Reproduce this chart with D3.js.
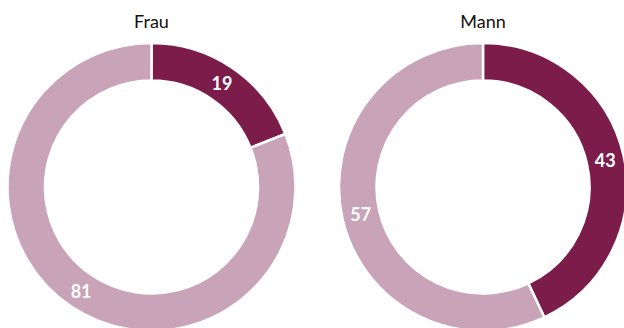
<!DOCTYPE html>
<html>
<head>
<meta charset="utf-8">
<script src="https://cdn.jsdelivr.net/npm/d3@7"></script>
<style>
  html, body { margin: 0; padding: 0; background: #fff; overflow: hidden; }
  svg { display: block; }
</style>
</head>
<body>
<svg id="chart" width="624" height="328"></svg>
<script>
// Anteile in Prozent je Geschlecht
const groups = ["Frau", "Mann"];
const categories = ["ja", "nein"];
const valuesFrau = [19, 81];
const valuesMann = [43, 57];
const seriesValues = [valuesFrau, valuesMann];
const colors = ["#7b1c4b", "#c9a3b7"];

const svg = d3.select("#chart");

const outerR = 144;
const innerR = 106.5;
const cy = 187;

const x = d3.scalePoint().domain(groups).range([151.5, 483]);
const color = d3.scaleOrdinal().domain(categories).range(colors);

const pie = d3.pie().sort(null).value(d => d.value);
const arc = d3.arc().innerRadius(innerR).outerRadius(outerR);

groups.forEach((g, i) => {
  const data = categories.map((c, j) => ({ cat: c, value: seriesValues[i][j] }));
  const gEl = svg.append("g").attr("transform", `translate(${x(g)},${cy})`);

  gEl.selectAll("path")
    .data(pie(data))
    .join("path")
    .attr("d", arc)
    .attr("fill", d => color(d.data.cat))
    .attr("stroke", "#fff")
    .attr("stroke-width", 2.5);

  gEl.selectAll("text.val")
    .data(pie(data))
    .join("text")
    .attr("class", "val")
    .attr("transform", d => `translate(${arc.centroid(d)})`)
    .attr("text-anchor", "middle")
    .attr("dominant-baseline", "central")
    .attr("font-family", "Lato, 'Open Sans', sans-serif")
    .attr("font-weight", "bold")
    .attr("font-size", 18)
    .attr("fill", "#fff")
    .text(d => d.data.value);

  svg.append("text")
    .attr("x", x(g))
    .attr("y", 21)
    .attr("text-anchor", "middle")
    .attr("dominant-baseline", "central")
    .attr("font-family", "Lato, 'Open Sans', sans-serif")
    .attr("font-size", 18)
    .attr("fill", "#111")
    .text(g);
});
</script>
</body>
</html>
